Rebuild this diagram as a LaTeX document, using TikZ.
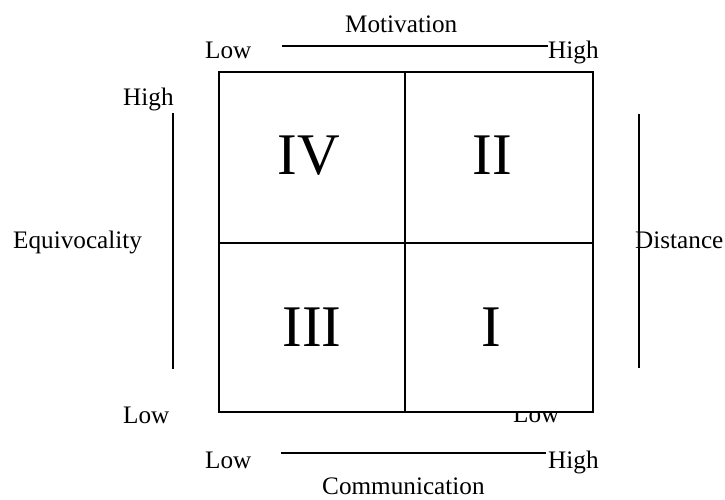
\documentclass[tikz,border=0pt]{standalone}
\usepackage{fontspec}
\setmainfont{Liberation Serif}
\begin{document}
\begin{tikzpicture}[x=1pt,y=-1pt,
  lbl/.style={inner sep=0pt,anchor=base west,font=\fontsize{25.2}{27}\selectfont},
  num/.style={inner sep=0pt,anchor=base,font=\fontsize{59}{61}\selectfont},
  ln/.style={line width=1.4pt,line cap=butt}]
\useasboundingbox (0,0) rectangle (725,499);
% text partly hidden behind the box
\node[lbl] (lowr) at (513,422) {Low};
% box
\coordinate (tl) at (219,72);
\coordinate (br) at (593,412);
\draw[ln,fill=white] (tl) rectangle (br);
\coordinate (mt) at (405,72);
\coordinate (mb) at (405,412);
\coordinate (ml) at (219,243);
\coordinate (mr) at (593,243);
\draw[ln] (mt) -- (mb);
\draw[ln] (ml) -- (mr);
% numerals
\node[num] (n4) at (309,174) {IV};
\node[num] (n2) at (492,174) {II};
\node[num] (n3) at (312,346) {III};
\node[num] (n1) at (491,346) {I};
% top axis
\node[lbl] (mot) at (345,32) {Motivation};
\node[lbl] (tlow) at (205,58) {Low};
\node[lbl] (thigh) at (548,58) {High};
\coordinate (ta) at (282,46);
\coordinate (tb) at (548,46);
\draw[ln] (ta) -- (tb);
% bottom axis
\node[lbl] (blow) at (205,468) {Low};
\node[lbl] (bhigh) at (548,468) {High};
\node[lbl] (com) at (322,494.5) {Communication};
\coordinate (ba) at (281,453);
\coordinate (bb) at (546,453);
\draw[ln] (ba) -- (bb);
% left axis
\node[lbl] (lhigh) at (123,105) {High};
\node[lbl] (equ) at (13,248) {Equivocality};
\node[lbl] (llow) at (123,423) {Low};
\coordinate (la) at (173,113);
\coordinate (lb) at (173,369);
\draw[ln] (la) -- (lb);
% right axis
\coordinate (ra) at (639,114);
\coordinate (rb) at (639,368);
\draw[ln] (ra) -- (rb);
\node[lbl] (dist) at (635,248) {Distance};
\end{tikzpicture}
\end{document}
